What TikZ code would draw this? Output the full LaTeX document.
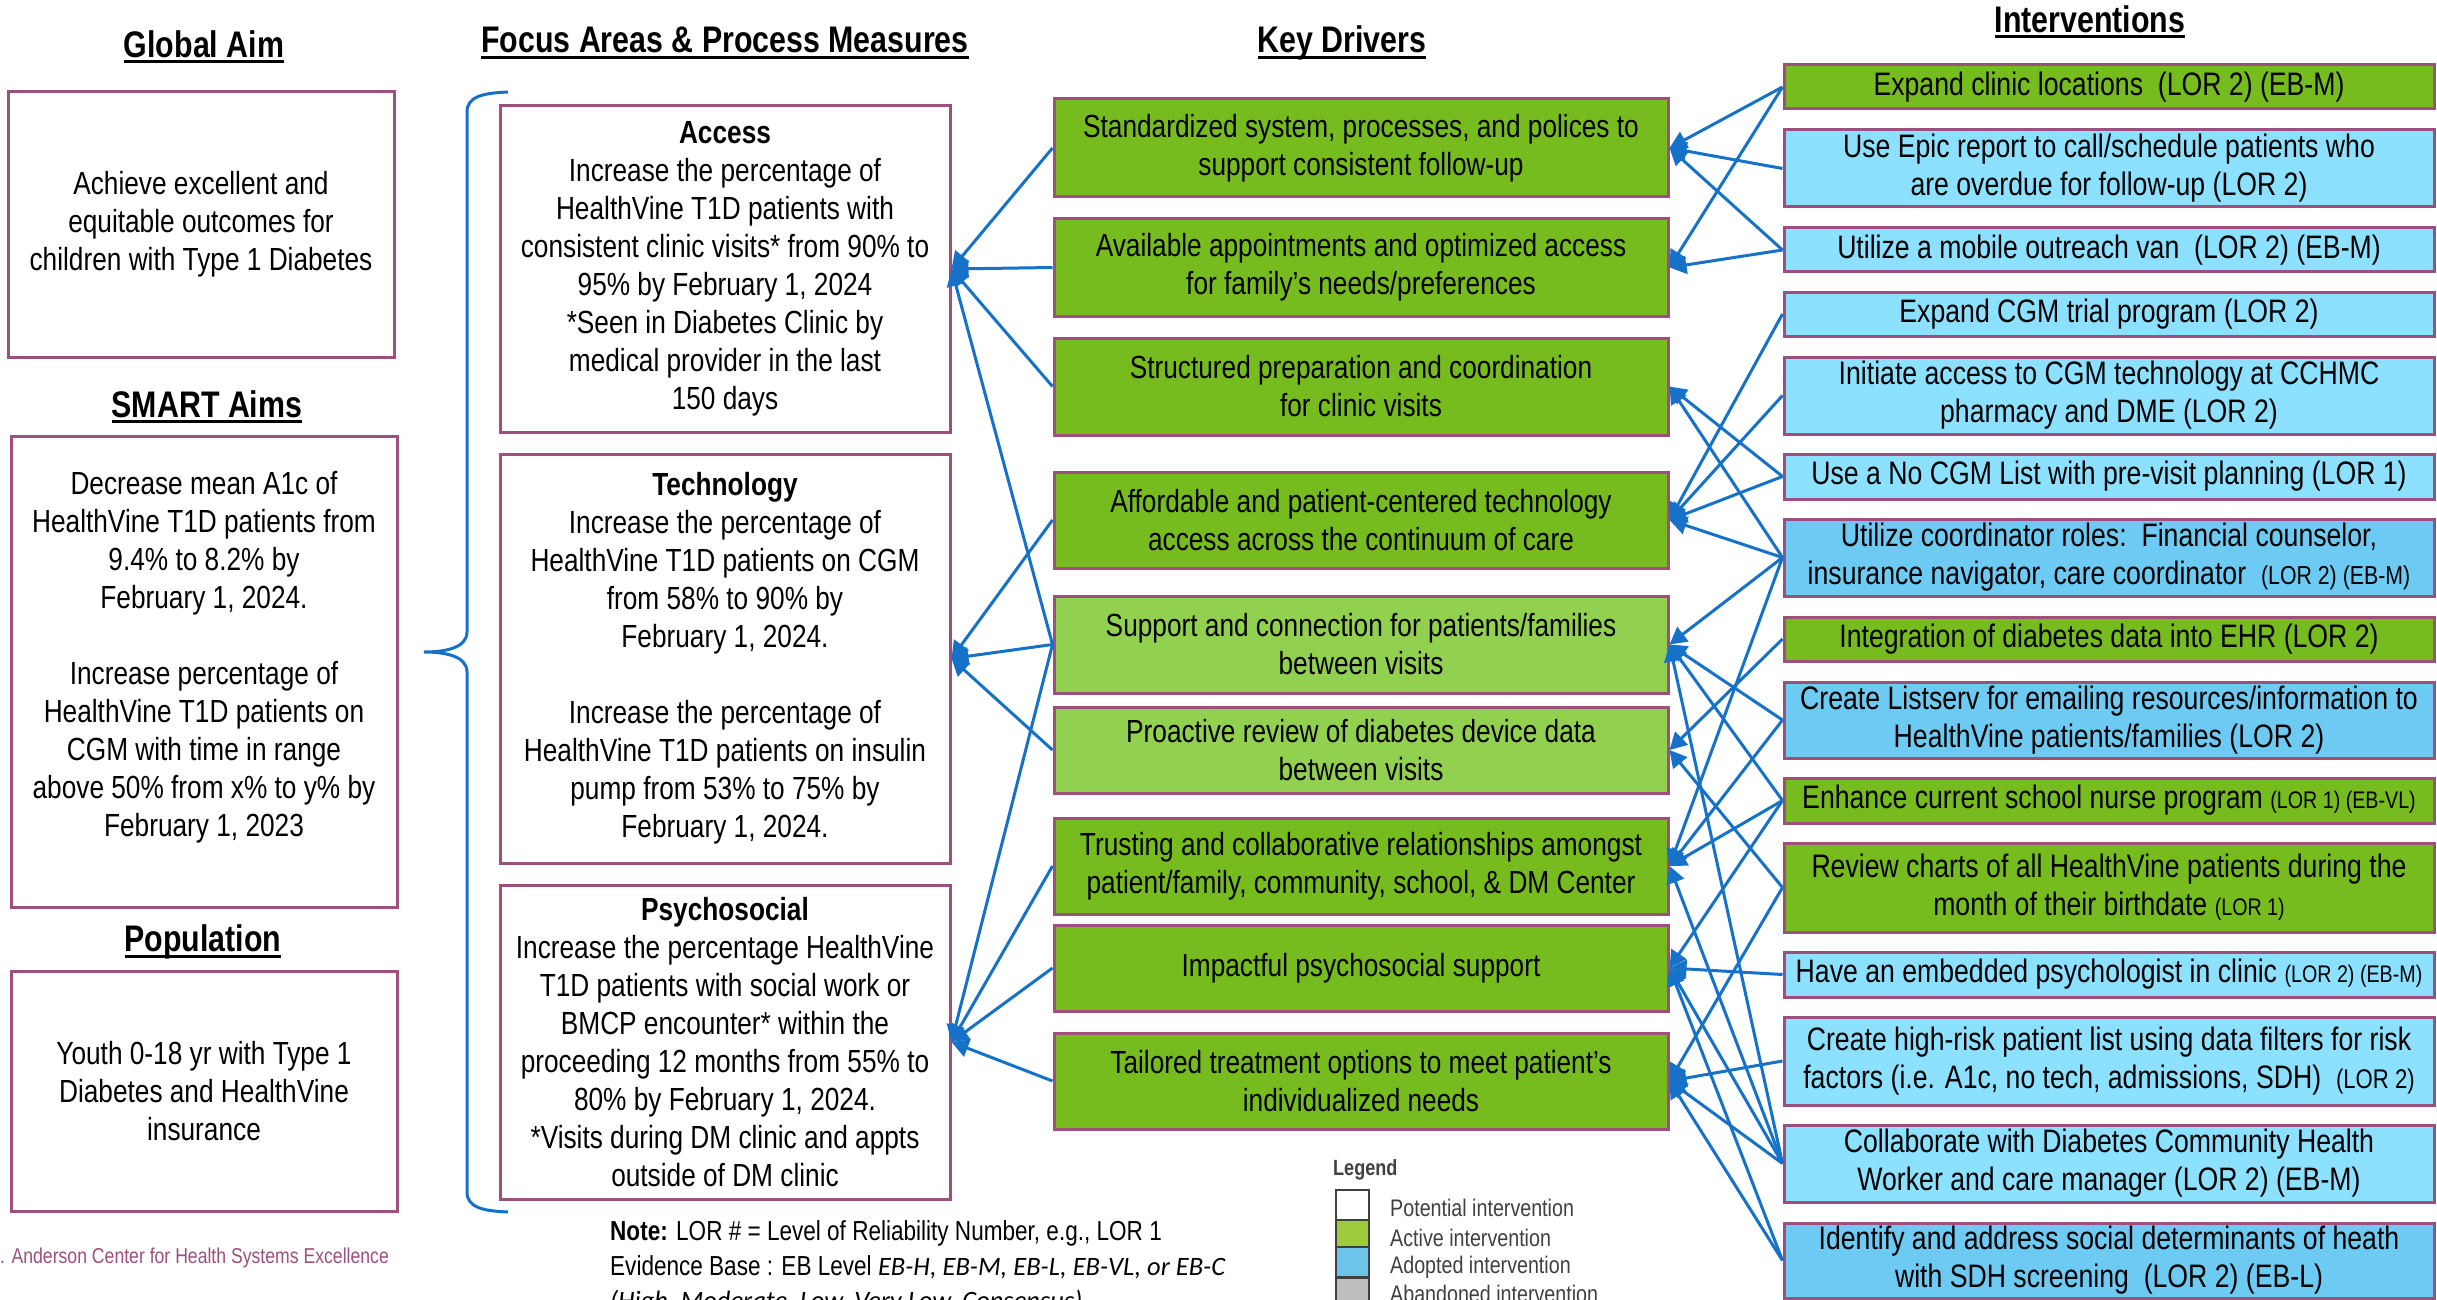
\documentclass[tikz,border=0pt]{standalone}
\usepackage{fontspec}
\setmainfont{Liberation Sans}[FakeStretch=0.82]
\newfontfamily\calib{Carlito}
\usetikzlibrary{arrows.meta}
\definecolor{dkgreen}{HTML}{77BC1F}
\definecolor{ltgreen}{HTML}{92D050}
\definecolor{ltblue}{HTML}{8BE1FF}
\definecolor{mdblue}{HTML}{6DCAF2}
\definecolor{bord}{HTML}{9E4F7E}
\definecolor{cblue}{HTML}{1672C8}
\definecolor{lgreen}{HTML}{9DCB3C}
\definecolor{lblue}{HTML}{6CC4EA}
\definecolor{lgray}{HTML}{BDBDBD}
\definecolor{legtext}{HTML}{404040}
\newcommand{\myul}[1]{\setbox0\hbox{#1}\leavevmode\rlap{\rule[-6pt]{\wd0}{3pt}}\box0}
\newcommand{\sm}{\fontsize{24}{38}\selectfont}
\tikzset{
  bx/.style={draw=bord, line width=3pt, inner sep=0pt},
  txt/.style={align=center, inner sep=0pt, font=\fontsize{32}{38}\selectfont},
  itxt/.style={align=center, inner sep=0pt, font=\fontsize{32.5}{38}\selectfont},
  con/.style={draw=cblue, line width=3pt, -{Triangle[length=17pt,width=18pt]}},
  ttl/.style={inner sep=0pt, font=\fontsize{37}{44}\selectfont\bfseries},
  legtxt/.style={anchor=west, inner sep=0pt, text=legtext, font=\fontsize{24}{26}\selectfont},
  swatch/.style={draw=legtext, line width=1.5pt, minimum width=33pt, inner sep=0pt},
}
% key driver box: name, y, height, colour, text
\newcommand{\kdbox}[5]{\node[bx, fill=#4, minimum width=614pt, minimum height=#3pt] (#1) at (1361,#2) {};
  \node[txt] (#1t) at (#1.center) {#5};}
% intervention box
\newcommand{\ivbox}[5]{\node[bx, fill=#4, minimum width=650pt, minimum height=#3pt] (#1) at (2109,#2) {};
  \node[itxt] (#1t) at (#1.center) {#5};}
\begin{document}
\begin{tikzpicture}[x=1pt,y=-1pt]
\useasboundingbox (0,0) rectangle (2437,1300);
\fill[white] (0,0) rectangle (2437,1300);

% titles
\node[ttl] (tglobal) at (204,47) {\myul{Global Aim}};
\node[ttl] (tsmart) at (207,407) {\myul{SMART Aims}};
\node[ttl] (tpop) at (203,942) {\myul{Population}};
\node[ttl] (tfocus) at (725,43) {\myul{Focus Areas \& Process Measures}};
\node[ttl] (tkd) at (1342,43) {\myul{Key Drivers}};
\node[ttl] (tint) at (2090,22) {\myul{Interventions}};

% left column
\node[bx, minimum width=386pt, minimum height=265pt] (global) at (201,224.5) {};
\node[txt] (globalt) at (global.center) {Achieve excellent and\\equitable outcomes for\\children with Type 1 Diabetes};
\node[bx, minimum width=386pt, minimum height=471pt] (smart) at (204,671.5) {};
\node[txt] (smartt) at (204,657) {Decrease mean A1c of\\HealthVine T1D patients from\\9.4\% to 8.2\% by\\February 1, 2024.\\[38pt]Increase percentage of\\HealthVine T1D patients on\\CGM with time in range\\above 50\% from x\% to y\% by\\February 1, 2023};
\node[bx, minimum width=386pt, minimum height=240pt] (pop) at (204,1091) {};
\node[txt] (popt) at (pop.center) {Youth 0-18 yr with Type 1\\Diabetes and HealthVine\\insurance};

% brace
\draw[cblue, line width=3pt] (508,92) .. controls (482,93) and (467,97) .. (467,112) -- (467,632)
  .. controls (467,648) and (445,652) .. (424,652) .. controls (445,652) and (467,656) .. (467,672)
  -- (467,1192) .. controls (467,1207) and (482,1211) .. (508,1212);

% focus areas
\node[bx, minimum width=450pt, minimum height=326pt] (access) at (725,269) {};
\node[txt] (accesst) at (access.center) {\textbf{Access}\\Increase the percentage of\\HealthVine T1D patients with\\consistent clinic visits* from 90\% to\\95\% by February 1, 2024\\*Seen in Diabetes Clinic by\\medical provider in the last\\150 days};
\node[bx, minimum width=450pt, minimum height=409pt] (tech) at (725,658.5) {};
\node[txt] (techt) at (tech.center) {\textbf{Technology}\\Increase the percentage of\\HealthVine T1D patients on CGM\\from 58\% to 90\% by\\February 1, 2024.\\[38pt]Increase the percentage of\\HealthVine T1D patients on insulin\\pump from 53\% to 75\% by\\February 1, 2024.};
\node[bx, minimum width=450pt, minimum height=314pt] (psych) at (725,1042) {};
\node[txt] (psycht) at (psych.center) {\textbf{Psychosocial}\\Increase the percentage HealthVine\\T1D patients with social work or\\BMCP encounter* within the\\proceeding 12 months from 55\% to\\80\% by February 1, 2024.\\*Visits during DM clinic and appts\\outside of DM clinic};

% key drivers
\kdbox{kd1}{148}{98}{dkgreen}{Standardized system, processes, and polices to\\support consistent follow-up}
\kdbox{kd2}{267.5}{97}{dkgreen}{Available appointments and optimized access\\for family’s needs/preferences}
\kdbox{kd3}{386.5}{97}{dkgreen}{Structured preparation and coordination\\for clinic visits}
\kdbox{kd4}{520}{96}{dkgreen}{Affordable and patient-centered technology\\access across the continuum of care}
\kdbox{kd5}{644.5}{97}{ltgreen}{Support and connection for patients/families\\between visits}
\kdbox{kd6}{750}{86}{ltgreen}{Proactive review of diabetes device data\\between visits}
\kdbox{kd7}{866}{96}{dkgreen}{Trusting and collaborative relationships amongst\\patient/family, community, school, \& DM Center}
\kdbox{kd8}{968}{86}{dkgreen}{Impactful psychosocial support}
\kdbox{kd9}{1081}{96}{dkgreen}{Tailored treatment options to meet patient’s\\individualized needs}

% interventions
\ivbox{i1}{87}{44}{dkgreen}{Expand clinic locations~~(LOR 2) (EB-M)}
\ivbox{i2}{168.5}{77}{ltblue}{Use Epic report to call/schedule patients who\\are overdue for follow-up (LOR 2)}
\ivbox{i3}{250}{44}{ltblue}{Utilize a mobile outreach van~~(LOR 2) (EB-M)}
\ivbox{i4}{314}{44}{ltblue}{Expand CGM trial program (LOR 2)}
\ivbox{i5}{395.5}{77}{ltblue}{Initiate access to CGM technology at CCHMC\\pharmacy and DME (LOR 2)}
\ivbox{i6}{476.5}{45}{ltblue}{Use a No CGM List with pre-visit planning (LOR 1)}
\ivbox{i7}{557.5}{77}{mdblue}{Utilize coordinator roles:~~Financial counselor,\\insurance navigator, care coordinator~~{\fontsize{26}{38}\selectfont (LOR 2) (EB-M)}}
\ivbox{i8}{639}{44}{dkgreen}{Integration of diabetes data into EHR (LOR 2)}
\ivbox{i9}{720}{76}{mdblue}{Create Listserv for emailing resources/information to\\HealthVine patients/families (LOR 2)}
\ivbox{i10}{800.5}{45}{dkgreen}{Enhance current school nurse program {\sm (LOR 1) (EB-VL)}}
\ivbox{i11}{887.5}{89}{dkgreen}{Review charts of all HealthVine patients during the\\month of their birthdate {\sm (LOR 1)}}
\ivbox{i12}{974.5}{45}{ltblue}{Have an embedded psychologist in clinic {\sm (LOR 2) (EB-M)}}
\ivbox{i13}{1061}{88}{ltblue}{Create high-risk patient list using data filters for risk\\factors (i.e. A1c, no tech, admissions, SDH)~~{\fontsize{27}{38}\selectfont (LOR 2)}}
\ivbox{i14}{1163.5}{77}{ltblue}{Collaborate with Diabetes Community Health\\Worker and care manager (LOR 2) (EB-M)}
\ivbox{i15}{1260.5}{75}{mdblue}{Identify and address social determinants of heath\\with SDH screening~~(LOR 2) (EB-L)}

% notes and legend
\node[anchor=west, inner sep=0pt, font=\fontsize{27.5}{33}\selectfont] (note1) at (610,1233) {\textbf{Note:} LOR \# = Level of Reliability Number, e.g., LOR 1};
\node[anchor=west, inner sep=0pt, font=\fontsize{27.5}{33}\selectfont] (note2) at (610,1267) {Evidence Base : EB Level {\calib\itshape\fontsize{26.5}{33}\selectfont EB-H, EB-M, EB-L, EB-VL, or EB-C}};
\node[anchor=west, inner sep=0pt, font=\calib\itshape\fontsize{26.5}{33}\selectfont] (note3) at (610,1302) {(High, Moderate, Low, Very Low, Consensus)};
\node[anchor=south west, inner sep=0pt, text=legtext, font=\fontsize{22}{26}\selectfont\bfseries] (legt) at (1333,1180) {Legend};
\node[swatch, fill=white, minimum height=30pt] (sw1) at (1352.5,1205) {};
\node[swatch, fill=lgreen, minimum height=27pt] (sw2) at (1352.5,1233.5) {};
\node[swatch, fill=lblue, minimum height=30pt] (sw3) at (1352.5,1262) {};
\node[swatch, fill=lgray, minimum height=30pt] (sw4) at (1352.5,1293) {};
\node[legtxt] (lg1) at (1390,1208) {Potential intervention};
\node[legtxt] (lg2) at (1390,1238) {Active intervention};
\node[legtxt] (lg3) at (1390,1267) {Adopted intervention};
\node[legtxt] (lg4) at (1390,1294) {Abandoned intervention};
\node[anchor=west, inner sep=0pt, text=bord, font=\fontsize{21.5}{26}\selectfont] (foot) at (0,1258) {. Anderson Center for Health Systems Excellence};

% key drivers -> focus areas
\foreach \k in {kd1,kd2,kd3,kd5} \draw[con] (\k.west) -- (access.east);
\foreach \k in {kd4,kd5,kd6} \draw[con] (\k.west) -- (tech.east);
\foreach \k in {kd5,kd7,kd8,kd9} \draw[con] (\k.west) -- (psych.east);

% interventions -> key drivers
\foreach \a/\b in {i1/kd1,i1/kd2,i2/kd1,i3/kd1,i3/kd2,i4/kd4,i5/kd4,i6/kd3,i6/kd4,
  i7/kd3,i7/kd4,i7/kd5,i7/kd7,i8/kd6,i9/kd5,i9/kd7,i10/kd5,i10/kd7,i10/kd8,
  i11/kd6,i11/kd9,i12/kd8,i13/kd9,i14/kd5,i14/kd7,i14/kd8,i14/kd9,i15/kd8,i15/kd9}
  \draw[con] (\a.west) -- (\b.east);
\end{tikzpicture}
\end{document}
